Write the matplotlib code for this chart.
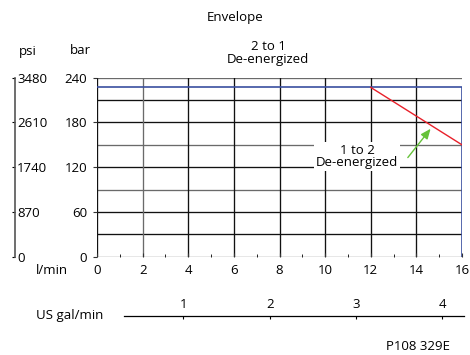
import matplotlib
matplotlib.use("Agg")
import matplotlib.pyplot as plt
from matplotlib.patches import FancyArrowPatch

plt.rcParams['font.family'] = ['Open Sans', 'DejaVu Sans']
FS = 9.5

# Data
flow_lpm_ticks = [0, 2, 4, 6, 8, 10, 12, 14, 16]
bar_ticks = [0, 60, 120, 180, 240]
psi_ticks = [0, 870, 1740, 2610, 3480]
gpm_ticks = [1, 2, 3, 4]
env_flow = [0, 16, 16]
env_press = [227, 227, 0]
drop_flow = [12, 16]
drop_press = [227, 150]
LPM_PER_GAL = 3.785

W, H = 470, 355
fig = plt.figure(figsize=(W / 100, H / 100), dpi=100)

def px(x, y):
    return x / W, 1 - y / H

x0, x1 = 97, 462
yb, yt = 256.7, 77.7
ax = fig.add_axes([x0 / W, 1 - yb / H, (x1 - x0) / W, (yb - yt) / H])
ax.set_xlim(0, 16)
ax.set_ylim(0, 240)

# grid
dark, grey = '#111111', '#6a6a6a'
for yv in range(0, 241, 30):
    c = grey if yv in (240, 150, 90, 0) else dark
    ax.axhline(yv, color=c, lw=0.95, zorder=1)
for xv in flow_lpm_ticks[:-1]:
    c = grey if xv == 2 else dark
    ax.axvline(xv, color=c, lw=0.95, zorder=1)

ax.plot(env_flow, env_press, color='#3a4fa0', lw=1.2, zorder=3)
ax.plot(drop_flow, drop_press, color='#e8202a', lw=1.0, zorder=3)

for s in ax.spines.values():
    s.set_visible(False)
ax.set_xticks(flow_lpm_ticks)
ax.set_xticks(range(1, 16, 2), minor=True)
ax.set_yticks(bar_ticks)
ax.tick_params(axis='both', which='major', labelsize=FS, length=3, width=0.8, color='#333')
ax.tick_params(axis='x', which='both', direction='in', pad=5)
ax.tick_params(axis='x', which='minor', length=2)
ax.tick_params(axis='y', direction='out', pad=4)

ax.text(11.4, 134.5, '1 to 2\nDe-energized', ha='center', va='center', fontsize=FS,
        linespacing=0.95, zorder=5,
        bbox=dict(boxstyle='square,pad=0.12', fc='white', ec='none'))
arr = FancyArrowPatch((13.55, 130), (14.7, 174.5), arrowstyle='-|>,head_length=6,head_width=2.5',
                      color='#66c23a', lw=1.0, zorder=6, mutation_scale=1)
ax.add_patch(arr)

# psi axis
pl = 15
axp = fig.add_axes([pl / W, 1 - yb / H, 0.0001, (yb - yt) / H])
axp.set_ylim(0, 3480)
axp.set_yticks(psi_ticks)
axp.set_xticks([])
for k in ('top', 'bottom', 'right'):
    axp.spines[k].set_visible(False)
axp.spines['left'].set_color('#555')
axp.spines['left'].set_linewidth(1.2)
axp.yaxis.set_ticks_position('both')
axp.tick_params(axis='y', left=False, right=True, labelleft=False, labelright=True,
                direction='in', length=2, pad=1.5, labelsize=FS)

# gal/min axis
gy = 315.7
axg = fig.add_axes([x0 / W, 1 - gy / H, (x1 - x0) / W, 0.0001])
axg.set_xlim(0, 16 / LPM_PER_GAL)
axg.set_yticks([])
for k in ('bottom', 'left', 'right'):
    axg.spines[k].set_visible(False)
axg.spines['top'].set_bounds((124 - x0) / (x1 - x0) * 16 / LPM_PER_GAL, 16.1 / LPM_PER_GAL)
axg.spines['top'].set_linewidth(0.9)
axg.xaxis.set_ticks_position('top')
axg.set_xticks(gpm_ticks)
axg.tick_params(axis='x', direction='in', length=2, pad=3, labelsize=FS)

# labels
fig.text(*px(235, 18), 'Envelope', ha='center', va='center', fontsize=FS)
fig.text(*px(268, 46), '2 to 1', ha='center', va='center', fontsize=FS)
fig.text(*px(268, 60), 'De-energized', ha='center', va='center', fontsize=FS)
fig.text(*px(28, 51), 'psi', ha='center', va='center', fontsize=FS)
fig.text(*px(80, 51), 'bar', ha='center', va='center', fontsize=FS)
fig.text(*px(52, 270), 'l/min', ha='center', va='center', fontsize=FS)
fig.text(*px(70, 316), 'US gal/min', ha='center', va='center', fontsize=FS)
fig.text(*px(418, 347), 'P108 329E', ha='center', va='center', fontsize=FS)

fig.savefig('out.png', dpi=100)
